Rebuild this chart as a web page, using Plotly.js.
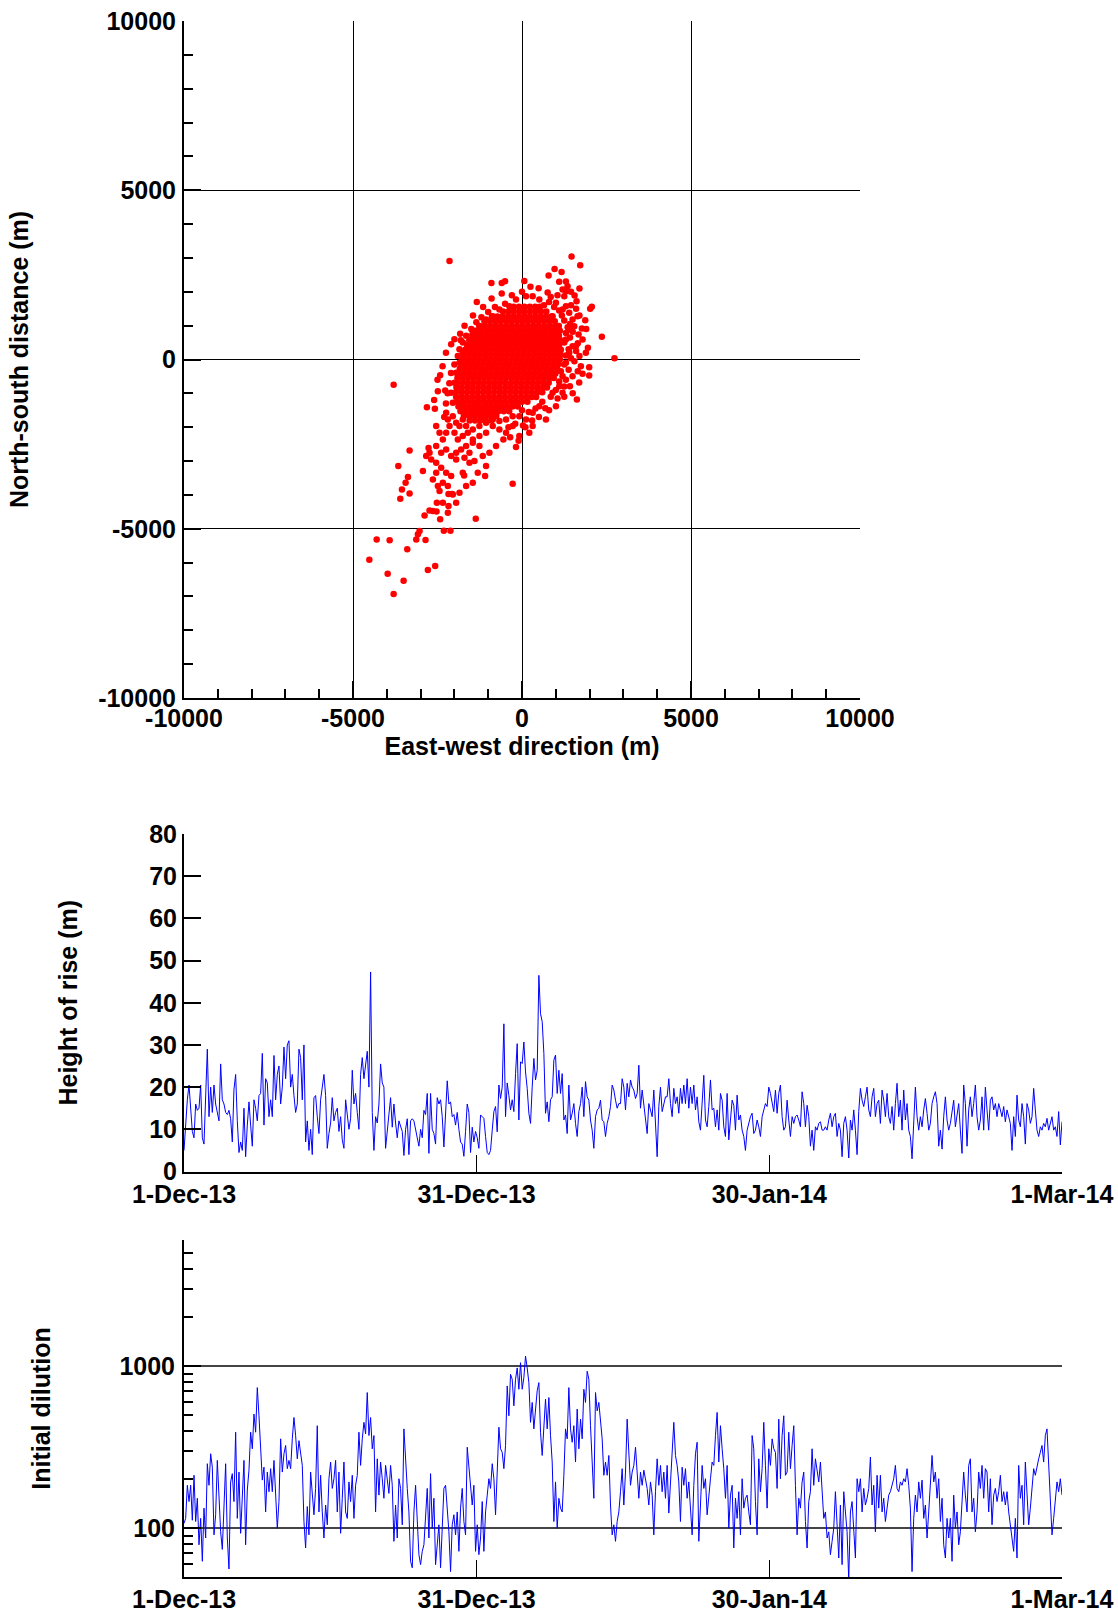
<!DOCTYPE html>
<html><head><meta charset="utf-8">
<script src="https://cdn.plot.ly/plotly-3.0.1.min.js"></script>
<style>html,body{margin:0;padding:0;background:#fff}#chart{width:1118px;height:1614px}</style>
</head><body><div id="chart"></div>
<script>
// ---------- tick labels ----------
const distTickVals = [-10000, -5000, 0, 5000, 10000];
const distTickText = ['-10000', '-5000', '0', '5000', '10000'];
const dateTickVals = ['2013-12-01', '2013-12-31', '2014-01-30', '2014-03-01'];
const dateTickText = ['1-Dec-13', '31-Dec-13', '30-Jan-14', '1-Mar-14'];
const riseTickVals = [0, 10, 20, 30, 40, 50, 60, 70, 80];
const dilTickVals = [100, 1000];
const dilTickText = ['100', '1000'];
const dilMinorVals = [50, 60, 70, 80, 90, 200, 300, 400, 500, 600, 700, 800, 900, 2000, 3000, 4000, 5000, 6000];
const seriesStart = '2013-12-01';
const seriesEnd = '2014-03-01';

// ---------- scatter: dense core rows (north-south level + east-west positions, m) ----------
const coreRowNs = [1560, 1420, 1270, 1130, 990, 850, 710, 570, 430, 290, 150, 10, -130, -270, -410, -550, -690, -830, -970, -1110, -1250, -1390, -1530, -1670, -1800];
const coreRowEw = [
 [-250,-90,70,230,390,530],
 [-560,-400,-240,-80,80,240,400,560,720],
 [-890,-730,-570,-410,-250,-90,70,230,390,550,710,870],
 [-1110,-950,-790,-630,-470,-310,-150,10,170,330,490,650,810,970],
 [-1260,-1100,-940,-780,-620,-460,-300,-140,20,180,340,500,660,820,980,1090],
 [-1380,-1220,-1060,-900,-740,-580,-420,-260,-100,60,220,380,540,700,860,1020,1120],
 [-1470,-1310,-1150,-990,-830,-670,-510,-350,-190,-30,130,290,450,610,770,930,1090],
 [-1560,-1400,-1240,-1080,-920,-760,-600,-440,-280,-120,40,200,360,520,680,840,1000,1140],
 [-1620,-1460,-1300,-1140,-980,-820,-660,-500,-340,-180,-20,140,300,460,620,780,940,1100],
 [-1680,-1520,-1360,-1200,-1040,-880,-720,-560,-400,-240,-80,80,240,400,560,720,880,1040,1150],
 [-1720,-1560,-1400,-1240,-1080,-920,-760,-600,-440,-280,-120,40,200,360,520,680,840,1000,1140],
 [-1760,-1600,-1440,-1280,-1120,-960,-800,-640,-480,-320,-160,0,160,320,480,640,800,960,1120],
 [-1800,-1640,-1480,-1320,-1160,-1000,-840,-680,-520,-360,-200,-40,120,280,440,600,760,920,1080],
 [-1840,-1680,-1520,-1360,-1200,-1040,-880,-720,-560,-400,-240,-80,80,240,400,560,720,880,1040],
 [-1880,-1720,-1560,-1400,-1240,-1080,-920,-760,-600,-440,-280,-120,40,200,360,520,680,840,990],
 [-1910,-1750,-1590,-1430,-1270,-1110,-950,-790,-630,-470,-310,-150,10,170,330,490,650,810,940],
 [-1930,-1770,-1610,-1450,-1290,-1130,-970,-810,-650,-490,-330,-170,-10,150,310,470,630,790],
 [-1940,-1780,-1620,-1460,-1300,-1140,-980,-820,-660,-500,-340,-180,-20,140,300,460,620,740],
 [-1950,-1790,-1630,-1470,-1310,-1150,-990,-830,-670,-510,-350,-190,-30,130,290,450,600],
 [-1950,-1790,-1630,-1470,-1310,-1150,-990,-830,-670,-510,-350,-190,-30,130,290,420],
 [-1920,-1760,-1600,-1440,-1280,-1120,-960,-800,-640,-480,-320,-160,0,160],
 [-1880,-1720,-1560,-1400,-1240,-1080,-920,-760,-600,-440,-280,-120],
 [-1820,-1660,-1500,-1340,-1180,-1020,-860,-700,-540,-380],
 [-1720,-1560,-1400,-1240,-1080,-920,-760],
 [-1550,-1390,-1230,-1070,-910]
];

// ---------- scatter: spread and outlying points (m) ----------
const ewSpread = [-2145,1466,1722,964,787,1171,-905,-600,-502,69,-1338,492,758,1299,1348,1200,1299,1250,1555,1614,
 2066,2017,1870,1771,1673,2362,2736,1988,1988,1791,1692,1624,1053,689,30,-177,-276,-3798,-2096,-1830,
 -1811,-2421,-2490,-2273,-2814,-2578,-3326,-3660,-3375,-3444,-3552,-3601,-2932,-3326,-2883,-2736,-2529,-2421,-2175,-2066,
 -2175,-1368,-2312,-2116,-3031,-3080,-3129,-2854,-3395,-4300,-3916,-4517,-3975,-3503,-3798,-2785,-2568,-1092,-1712,-2244,
 -2194,-2047,-1948,-1850,-2539,-2440,-2342,-2244,-2145,-1998,-1899,-1752,-1604,-1456,-1260,-1063,-866,-669,-472,-276,
 -2539,-2391,-2244,-2096,-1948,-1801,-1653,-1456,-1260,-2686,-2539,-2391,-2244,-2096,-1948,-1702,-1555,-1407,-2637,-2490,
 -2342,-2194,-2047,-2440,-2539,-2736,-2834,-2765,-2519,-2342,-2194,-2637,-1752,-1555,-1063,-1309,-1456,-1653,-1850,-1948,
 -1161,-964,-768,-551,-79,216,315,708,1004,1200,1417,1496,1742,1889,1594,1791,1545,1643,1200,1004,
 905,315,512,118,-177,-374,-669,-866,-1063,-1260,-1456,-1604,-1752,-1850,-1948,1299,1397,1496,1397,1299,
 1496,1397,1299,1200,1102,905,512,315,118,-79,-276,-472,-669,-866,-1063,-1260,-1456,-1653,-1752,-2047,
 -2096,-1998,
 1250,1350,1300,1420,1250,1380,1300,1450,1250,1380,1150,1300,1100,1000,850,1250,1550,1600,1650,1500,
 1420,1180,1100,950,800,650,850,1050,1450,1600,1700,1900,1950,1700,1650,1500,1250,1450,1700,1100,
 -500,-800,-1000,-1200,-1350,-1500,-1650,-1750,-1850,-1900,-2000,-2100,-2150,-2200,-2250,-2300,-1150,-900,-600,-300,
 0,250,-1450,-1700,-2000,-2250,-2350,-2500,-2600,
 600,400,200,0,-200,-400,500,800,100,-100,-350,300];
const nsSpread = [2913,3041,2785,2676,2480,2588,2263,2263,2312,2322,1702,2106,1978,2303,2165,2066,2017,1870,1889,1722,
 1555,1496,1161,915,738,669,39,-226,-472,-423,-679,-1181,-1151,-1437,-1948,-2588,-3670,-748,453,758,
 571,-462,-935,-915,-1407,-1456,-2686,-3149,-3474,-3641,-3838,-4113,-3296,-3956,-4605,-4458,-4487,-4723,-4330,-3975,
 -3975,-4704,-5058,-5058,-5068,-5166,-5314,-5333,-5609,-5314,-5343,-5914,-6327,-6534,-6927,-6219,-6101,-3444,-3424,-1574,
 -1771,-1673,-1870,-1968,-1968,-2165,-2362,-2165,-1968,-2165,-2362,-2263,-2165,-2066,-1968,-1870,-1771,-1820,-1771,-1673,
 -2558,-2755,-2657,-2854,-2755,-2657,-2558,-2460,-2558,-2952,-3050,-3198,-3346,-3444,-2952,-2903,-3050,-3001,-3542,-3739,
 -3641,-3739,-3985,-3887,-3346,-2755,-2854,-2617,-4231,-4231,-4526,-4477,-3346,-2755,-3149,-3346,-3641,-3739,-3936,-4231,
 -2854,-2755,-2558,-2362,-2263,-2165,-1968,-1771,-1378,-984,-787,-492,-197,197,394,590,984,1279,1476,1673,
 1279,1870,1771,1870,1771,1574,1476,1279,1181,984,787,394,197,-98,-394,1574,1378,1181,886,590,
 394,197,-98,-492,-787,-984,-1378,-1574,-1771,-1673,-1968,-2165,-2066,-1968,-2165,-2263,-2362,-1968,-1771,-1279,
 -984,-689,
 1150,950,780,650,500,300,120,40,-150,-300,-350,-600,-650,-900,-1100,-800,-50,250,480,820,
 1050,1300,1450,1550,1700,1600,1850,1900,1600,1500,1300,900,350,100,-350,-1000,-1100,2000,2100,2300,
 1650,1550,1400,1250,1100,900,700,500,300,100,-150,-400,-700,-1000,-1300,-1700,1550,1800,1950,1900,
 2000,2150,1300,1000,600,200,-200,-600,-1200,
 -1250,-1450,-1550,-1500,-1900,-2000,-1700,-1500,-2000,-2400,-2300,-1800];

// ---------- time series (regular samples, 1 Dec 2013 to 1 Mar 2014) ----------
const riseM = [
 5,12,17,20.5,14,9.5,8,16,14.5,15, 20.5,8,6.5,17,29,13,20,14,20.5,16,
 14,12,25.5,17,16,14,13.5,14.5,12.5,7, 19.5,23,12,4.5,7,5,15,3.5,11,16.5,
 11,6,17,15,12,18,18.5,28,11,22, 21,13,17,13,27.5,17,23,25,16,20,
 29.5,22,30,31,20,23,18,14,16,29, 27,17,30,7,12,5,10,4,17.5,18,
 13,9,17,20,23,18,5.5,9,11.5,17.5, 12,14,15,9.5,13,7.5,5.5,17,13,10,
 12.5,24,16,18.5,14,10,23,27,22,25, 28.5,20,47.3,14,5,13,11.5,16,25.5,21,
 20,5.5,10,13.5,17.5,10.5,16,11.5,8,12, 10.5,9.5,3.8,10,12.5,4,12,12.5,12,10,
 8,6,10,8,14.5,13.5,18.5,4.3,18.5,10, 9,6.5,17.5,16,17,13,5.8,15,21.5,16,
 16.5,13,13.5,11,14,10,7,6.5,3.6,9.5, 16,14,4.5,10.5,7,9.5,8,5.5,
 13.4,13,12.6,8.3,4.5,4,5,9.8,14.2,15.4, 9.4,20.5,17.3,20,35,13,21,18,14.6,17,
 14.2,23.2,30.3,12.2,26,25.6,30.7,23.6,19.7,13.8, 11.4,20,26.8,21.7,24,46.5,37.4,35.5,28,13.8,
 16.5,11.8,17,17.7,26.4,27.6,18.5,24,18.5,23.2, 12.2,13.4,9,20.5,12.2,13.8,16.1,11.4,8.3,14.2,
 16.1,20,13,21.3,17.7,16.9,12.2,9.8,5.5,13, 14.6,15,16.9,12.2,11.8,8.3,11.4,13,15.4,20.5,
 19.3,16.9,15,16.1,16.1,22,20,14.6,20.9,17.7, 21.7,20,19.3,17.3,18.5,25.2,15,19.3,16.1,13.4,
 9,16.1,14.2,13,19.3,12.6,3.5,15.4,20,14.2, 15.7,17.7,17.7,22,16.1,13,19.7,16.1,17.7,13.8,
 19.7,16.1,20.5,16.1,22,15,20,16.1,20.5,14.6, 17.7,11.8,9.8,16.1,22.8,12.2,10.6,15.4,21.7,14.6,
 15,10.6,14.6,9.8,18.5,16.9,10.6,8.3,18.5,7.5, 11.4,16.9,15.7,9.8,18.1,12.2,13.4,9.8,8.3,5,
 9.8,11.4,13,13.8,9,9.8,12.2,10.6,8.3,13, 14.6,16.1,15.4,20,18.5,16.1,14.2,
 19.3,13.8,18.5,20.5,13,9.8,10.6,16.9,12.2,8.3, 13,11.4,13,13.4,12.2,10.6,18.9,16.1,10.6,15.7,
 13,6,9.8,5,10.6,9.8,11.4,11.8,9.8,9.8, 10.6,9.8,12.2,13.8,10.6,13,13.8,8.3,11.4,9.8,
 3.5,11.4,13,9.8,3.2,12.2,9.8,14.6,9.8,4, 14.2,19.7,16.9,15.4,17.7,20,14.6,13,17.7,19.7,
 13,16.1,16.9,11.4,19.3,16.9,13,18.5,13,11.4, 15.4,9.8,16.1,20.9,13,16.9,9.8,19.3,12.2,16.1,
 9.8,8.3,3,11.4,20,13,9.8,13,10.6,14.6, 17.3,13.8,9.8,11.4,16.1,17.7,18.9,16.1,6,9.8,
 5.3,13,17.7,12.2,9.8,11.4,14.6,16.9,10.6,13, 16.1,9.8,4.3,20.5,16.1,6,14.6,17.7,13,16.1,
 20.5,13,9.8,12.2,17.7,9.8,20,14.6,9.8,16.9, 17.7,14.6,16.1,13,16.1,14.6,13,15.4,11.8,14.6,
 13,11.4,5,13,8.3,18.1,12.2,10.6,16.1,13, 6.5,16.1,14.6,11.4,13,19.7,14.6,9.8,8.3,10.6,
 9.8,11.4,10.6,12.6,9.8,11.4,13,9.8,10.6,8.3, 14.2,6.3,11.8
];
const dilution = [
 107,115,184,146,184,112,212,110,153,79, 115,62.5,133,87,250,184,288,238,91,121,
 262,136,95,74,139,250,87,56,193,217, 146,391,115,222,93,168,262,79,172,228,
 391,309,506,391,737,494,281,198,238,126, 222,168,233,168,262,153,100,146,356,222,
 288,324,233,262,233,356,482,373,268,347, 281,244,110,75.5,136,91,222,153,121,176,
 429,126,212,126,87,139,105,202,256,176, 202,262,126,222,93,153,256,126,115,193,
 146,212,115,184,212,391,244,356,450,382, 687,373,482,309,373,126,268,160,256,202,
 153,244,193,164,244,184,83,139,87,202, 176,105,410,244,176,126,62.5,57,126,184,
 105,68.7,59.6,72,79,126,176,87,217,100, 153,59.6,79,105,57,115,176,184,139,95,
 54,105,121,91,126,72,133,176,110,91, 316,244,176,139,184,72,105,68.7,
 87,146,72,126,160,202,176,250,202,121, 222,420,309,294,233,324,755,494,890,830,
 569,830,975,720,1050,720,850,1152,975,791, 450,597,410,556,705,791,391,281,391,625,
 410,640,373,256,110,193,100,153,133,126, 212,410,356,737,410,339,429,256,543,309,
 471,356,720,597,930,830,429,244,153,687, 530,597,471,356,212,256,212,281,139,91,
 105,83,110,126,168,233,139,222,471,309, 184,222,244,316,222,153,222,184,228,202,
 176,139,193,160,91,168,268,184,244,168, 222,153,244,124,193,281,450,281,244,193,
 110,238,184,233,153,193,133,91,184,288, 339,83,139,244,176,202,121,168,202,256,
 244,373,518,256,429,309,233,153,244,100, 160,184,75.5,153,115,168,91,202,133,153,
 160,126,105,373,309,146,91,268,168,233, 450,244,133,309,244,356,309,
 294,176,471,202,373,494,212,222,391,233, 324,429,184,91,153,133,193,222,110,75.5,
 146,168,309,184,268,233,193,256,168,115, 126,87,95,68.7,83,100,168,105,65.5,139,
 59.6,168,126,95,48,126,146,95,65.5,202, 168,202,126,176,139,153,176,275,139,184,
 95,212,133,212,126,153,110,133,160,168, 184,202,244,176,168,193,184,202,193,233,
 184,133,54,115,160,126,193,153,198,115, 139,87,126,193,281,193,222,153,202,110,
 153,79,65.5,115,87,115,62.5,160,100,126, 79,95,139,222,160,126,244,268,126,153,
 95,126,222,176,244,153,233,222,126,202, 105,160,176,146,168,212,146,168,139,168,
 126,105,91,72,115,65.5,244,153,184,105, 256,168,105,133,176,233,212,244,268,294,
 324,256,373,410,244,126,91,115,153,193, 168,202,160
];

// ---------- build traces ----------
const ew = [], ns = [];
coreRowNs.forEach((y, i) => coreRowEw[i].forEach(x => { ew.push(x); ns.push(y); }));
ewSpread.forEach((x, i) => { ew.push(x); ns.push(nsSpread[i]); });

function sampleTimes(n) {
  const t0 = Date.parse(seriesStart + 'T00:00:00Z'), t1 = Date.parse(seriesEnd + 'T00:00:00Z');
  const out = [];
  for (let i = 0; i < n; i++) out.push(new Date(t0 + (t1 - t0) * i / (n - 1)).toISOString().slice(0, 19).replace('T', ' '));
  return out;
}

const F = 'Liberation Sans, Arial, Helvetica, sans-serif';
const txt = {family: F, size: 25, color: '#000', weight: 'bold'};

const traces = [
  {type: 'scatter', mode: 'markers', x: ew, y: ns, xaxis: 'x', yaxis: 'y',
   marker: {color: '#ff0000', size: 6.5, line: {width: 0}}, hoverinfo: 'x+y'},
  {type: 'scatter', mode: 'lines', x: sampleTimes(riseM.length), y: riseM, xaxis: 'x2', yaxis: 'y2',
   line: {color: '#0000ff', width: 1}},
  {type: 'scatter', mode: 'lines', x: sampleTimes(dilution.length), y: dilution, xaxis: 'x3', yaxis: 'y3',
   line: {color: '#0000ff', width: 1}}
];

const W = 1118, H = 1614;
const xd1 = [184 / W, 860 / W], xd2 = [184 / W, 1062 / W];
const common = {tickfont: txt, showline: true, linecolor: '#000', linewidth: 2, ticks: 'inside', tickcolor: '#000',
  ticklen: 17, tickwidth: 2, zeroline: false, tickmode: 'array', fixedrange: true};

const layout = {
  width: W, height: H, margin: {l: 0, r: 0, t: 0, b: 0}, paper_bgcolor: '#fff', plot_bgcolor: '#fff',
  showlegend: false, font: txt,
  xaxis: Object.assign({}, common, {domain: xd1, anchor: 'y', range: [-10000, 10000],
    tickvals: distTickVals, ticktext: distTickText, showgrid: true, gridcolor: '#000', gridwidth: 1,
    ticklabelstandoff: -3,
    minor: {tickmode: 'linear', tick0: 0, dtick: 1000, ticks: 'inside', ticklen: 9, tickwidth: 2, tickcolor: '#000', showgrid: false},
    title: {text: 'East-west direction (m)', font: txt, standoff: 5}}),
  yaxis: Object.assign({}, common, {domain: [1 - 698 / H, 1 - 21 / H], anchor: 'x', range: [-10000, 10000],
    tickvals: distTickVals, ticktext: distTickText, showgrid: true, gridcolor: '#000', gridwidth: 1,
    ticklabelstandoff: 1,
    minor: {tickmode: 'linear', tick0: 0, dtick: 1000, ticks: 'inside', ticklen: 9, tickwidth: 2, tickcolor: '#000', showgrid: false},
    title: {text: 'North-south distance (m)', font: txt, standoff: 62}}),
  xaxis2: Object.assign({}, common, {domain: xd2, anchor: 'y2', type: 'date', range: [seriesStart, seriesEnd],
    tickvals: dateTickVals, ticktext: dateTickText, showgrid: false, tickwidth: 1.5, ticklabelstandoff: -1}),
  yaxis2: Object.assign({}, common, {domain: [1 - 1171.5 / H, 1 - 834 / H], anchor: 'x2', range: [0, 80],
    tickvals: riseTickVals, showgrid: false, ticklabelstandoff: 0,
    title: {text: 'Height of rise (m)', font: txt, standoff: 64}}),
  xaxis3: Object.assign({}, common, {domain: xd2, anchor: 'y3', type: 'date', range: [seriesStart, seriesEnd],
    tickvals: dateTickVals, ticktext: dateTickText, showgrid: false, tickwidth: 1.5, ticklabelstandoff: -1}),
  yaxis3: Object.assign({}, common, {domain: [1 - 1577 / H, 1 - 1240 / H], anchor: 'x3', type: 'log',
    range: [Math.log10(50), Math.log10(6000)], tickvals: dilTickVals, ticktext: dilTickText,
    showgrid: true, gridcolor: '#444', gridwidth: 1.5, ticklabelstandoff: 2,
    minor: {tickmode: 'array', tickvals: dilMinorVals, ticks: 'inside', ticklen: 9, tickwidth: 2, tickcolor: '#000', showgrid: false},
    title: {text: 'Initial dilution', font: txt, standoff: 62}})
};

Plotly.newPlot('chart', traces, layout, {displayModeBar: false, staticPlot: true});
</script>
</body></html>
